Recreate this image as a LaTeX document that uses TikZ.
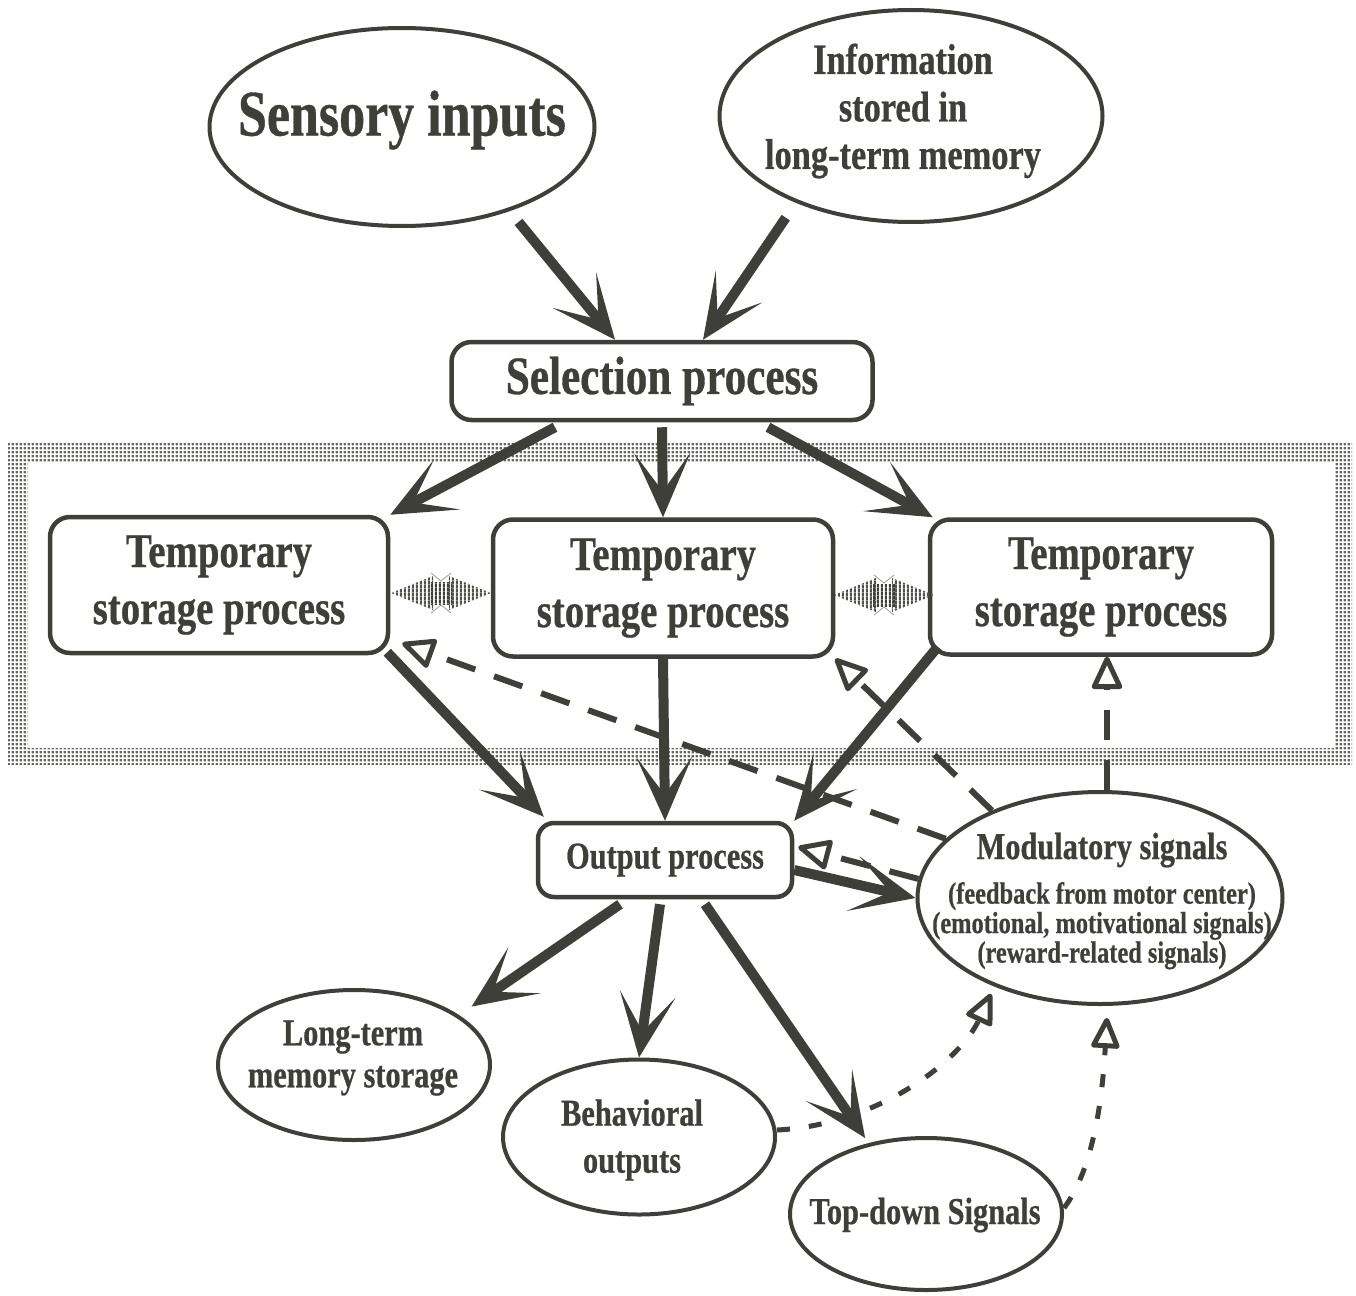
\documentclass[tikz,border=0pt]{standalone}
\usepackage{fontspec}
\newfontfamily\cf[FakeStretch=0.8, FakeBold=0.6]{Liberation Serif}
\usetikzlibrary{arrows.meta,shapes.geometric,patterns}
\definecolor{dk}{RGB}{62,63,56}
\pgfdeclarepatternformonly{mydots}{\pgfpointorigin}{\pgfpoint{3.7pt}{3.7pt}}{\pgfpoint{3.7pt}{3.7pt}}{\pgfpathrectangle{\pgfpoint{0.7pt}{0.7pt}}{\pgfpoint{2.3pt}{2.3pt}}\pgfusepath{fill}}
\pgfdeclarepatternformonly{myvlines}{\pgfpointorigin}{\pgfpoint{4.3pt}{4.3pt}}{\pgfpoint{4.3pt}{4.3pt}}{\pgfpathrectangle{\pgfpoint{0.9pt}{0pt}}{\pgfpoint{2.5pt}{4.3pt}}\pgfusepath{fill}}
\newcommand\tightlines{\lineskiplimit=-50pt\relax}
\begin{document}
\begin{tikzpicture}[x=1pt,y=-1pt,
  ell/.style={ellipse, draw=dk, line width=4pt, inner sep=0pt},
  box/.style={rectangle, rounded corners=20pt, draw=dk, line width=4.5pt, inner sep=0pt, text=dk, align=center},
  txt/.style={text=dk, align=center, inner sep=0pt},
  big/.style={draw=dk, line width=10pt, -{Stealth[length=64pt, width=56pt, inset=38pt]}},
  dsh/.style={draw=dk, line width=6pt, dash pattern=on 30pt off 20pt, -{Triangle[open, round, length=36pt, width=32pt, line width=5pt]}},
  dott/.style={draw=dk, line width=5pt, dash pattern=on 13pt off 19pt, -{Triangle[open, round, length=34pt, width=30pt, line width=5pt]}},
  dblarr/.pic={
    \fill[pattern=myvlines, pattern color=dk!90] (-50,0) -- (-8,-17) -- (-8,17) -- cycle;
    \fill[pattern=myvlines, pattern color=dk!90] (50,0) -- (8,-17) -- (8,17) -- cycle;
    \fill[pattern=myvlines, pattern color=dk] (-11,-11) rectangle (11,11);
    \draw[dk!50, line width=0.8pt] (-10,-20) -- (0,-12) -- (10,-20) (-10,20) -- (0,12) -- (10,20);
  }]
\useasboundingbox (0,0) rectangle (1356,1295);

% dotted frame
\fill[pattern=mydots, pattern color=dk!80, even odd rule] (8,442) rectangle (1352,765) (28,462) rectangle (1335,748);

% nodes
\node[ell, minimum width=385pt, minimum height=198pt] (sens) at (402,127) {};
\node[txt, font=\cf\bfseries\fontsize{65}{70}\selectfont] (sensT) at (402,120) {Sensory inputs};

\node[ell, minimum width=383pt, minimum height=212pt] (info) at (911,116) {};
\node[txt, font=\cf\bfseries\fontsize{43}{47.5}\selectfont] (infoT) at (903,111) {Information\\stored in\\long-term memory};

\node[box, minimum width=421pt, minimum height=78pt, font=\cf\bfseries\fontsize{54}{60}\selectfont] (sel) at (662,381) {Selection process};

\node[box, minimum width=338pt, minimum height=136pt, font=\cf\bfseries\fontsize{48.5}{57}\selectfont] (t1) at (219,585) {Temporary\\storage process};
\node[box, minimum width=340pt, minimum height=137pt, font=\cf\bfseries\fontsize{48.5}{57}\selectfont] (t2) at (663,588) {Temporary\\storage process};
\node[box, minimum width=342pt, minimum height=135pt, font=\cf\bfseries\fontsize{48.5}{57}\selectfont] (t3) at (1101,587) {Temporary\\storage process};

\pic (d1) at (441,593) {dblarr};
\pic (d2) at (884,595) {dblarr};

\node[box, rounded corners=16pt, minimum width=254pt, minimum height=74pt, font=\cf\bfseries\fontsize{38}{42}\selectfont] (out) at (665,860) {Output process};

\node[ell, minimum width=365pt, minimum height=212pt] (mod) at (1100,898) {};
\node[txt, font={\cf\bfseries\fontsize{30.5}{29.5}\selectfont\tightlines}] (modT) at (1102,901)
  {{\fontsize{38}{42}\selectfont Modulatory signals}\\[15pt](feedback from motor center)\\(emotional, motivational signals)\\(reward-related signals)};

\node[ell, minimum width=272pt, minimum height=150pt] (ltm) at (354,1065) {};
\node[txt, font=\cf\bfseries\fontsize{38}{42}\selectfont] (ltmT) at (353,1058) {Long-term\\memory storage};

\node[ell, minimum width=272pt, minimum height=155pt] (beh) at (639,1137) {};
\node[txt, font=\cf\bfseries\fontsize{38}{47}\selectfont] (behT) at (632,1140) {Behavioral\\outputs};

\node[ell, minimum width=272pt, minimum height=152pt] (td) at (926,1214) {};
\node[txt, font=\cf\bfseries\fontsize{38}{42}\selectfont] (tdT) at (925,1215) {Top-down Signals};

% solid arrows
\draw[big, shorten <=14pt] (sens.-38) -- ([xshift=-47pt]sel.north);
\draw[big, shorten <=18pt] (info.-143) -- ([xshift=41pt]sel.north);
\draw[big] ([xshift=-107pt,yshift=-5pt]sel.south) -- (t1.north east);
\draw[big] ([yshift=-5pt]sel.south) -- (t2.north);
\draw[big] ([xshift=106pt,yshift=-5pt]sel.south) -- ([xshift=5pt]t3.north west);
\draw[big] ([xshift=-3pt,yshift=3pt]t1.south east) -- ([xshift=8pt,yshift=4pt]out.north west);
\draw[big] (t2.south) -- (out.north);
\draw[big] ([xshift=10pt,yshift=10pt]t3.south west) -- (out.north east);
\draw[big] ([yshift=-10pt]out.east) -- (mod.west);
\draw[big] ([xshift=-45pt,yshift=-5pt]out.south) -- ([xshift=20pt,yshift=4pt]ltm.north east);
\draw[big] ([xshift=-5pt,yshift=-5pt]out.south) -- (beh.north);
\draw[big] ([xshift=40pt,yshift=-5pt]out.south) -- ([yshift=6pt]td.131);

% dashed arrows
\draw[dsh] (mod.159.5) -- ([xshift=12pt,yshift=12pt]t1.south east);
\draw[dsh] (mod.141) -- (t2.south east);
\draw[dsh] (mod.174) -- ([xshift=4pt,yshift=13pt]out.east);
\draw[dsh] ([xshift=7pt]mod.north) -- ([xshift=6pt]t3.south);

% dotted arrows
\draw[dott, shorten >=8pt] ([yshift=7pt]beh.east) .. controls +(100,-5) and +(-35,75) .. (mod.220);
\draw[dott, shorten >=12pt] ([yshift=6pt]td.east) .. controls +(30,-40) and +(-5,90) .. (mod.-86);
\end{tikzpicture}
\end{document}
